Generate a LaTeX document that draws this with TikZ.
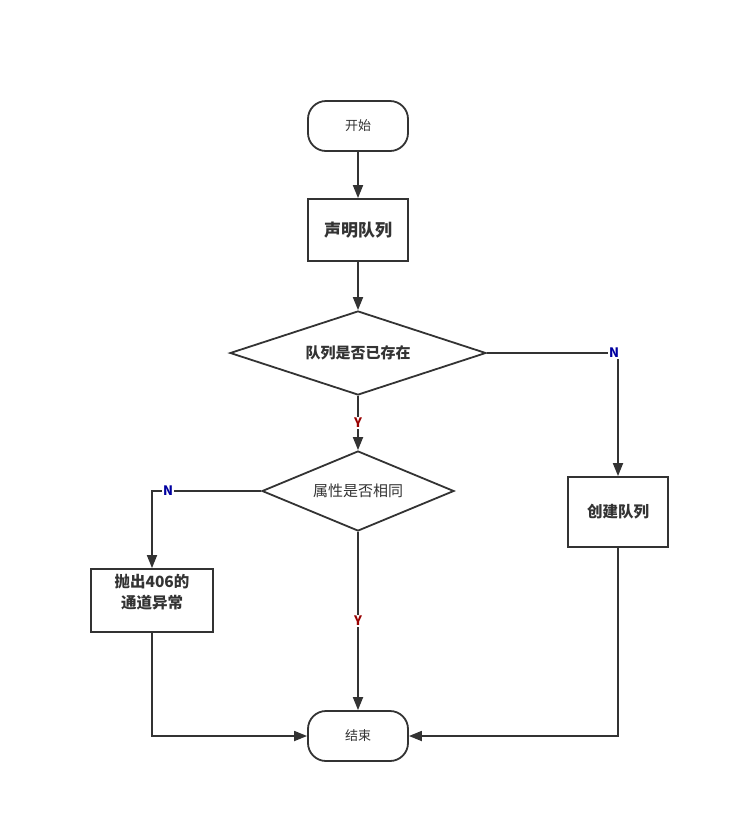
\documentclass[tikz,border=0pt]{standalone}
\usepackage{fontspec}
\setmainfont{Noto Sans CJK SC}
\usetikzlibrary{shapes.geometric,arrows.meta}
\definecolor{ln}{HTML}{333333}
\definecolor{nblue}{HTML}{0000A0}
\definecolor{yred}{HTML}{990000}
\begin{document}
\begin{tikzpicture}[x=1pt,y=-1pt,
  every node/.style={text=ln},
  term/.style={draw=ln,line width=1.8pt,rounded corners=18pt,minimum width=100pt,minimum height=50pt,inner sep=0pt,font=\fontsize{13}{15}\selectfont},
  proc/.style={draw=ln,line width=1.8pt,minimum width=100pt,inner sep=0pt,align=center,font=\fontsize{15.5}{20}\selectfont\bfseries},
  dec/.style={draw=ln,line width=1.8pt,diamond,aspect=3,inner sep=0pt},
  conn/.style={draw=ln,line width=1.8pt,-{Triangle[length=13pt,width=10pt]}},
  lbl/.style={fill=white,inner sep=1pt,font=\fontsize{13}{15}\selectfont\bfseries}
]
\useasboundingbox (0,0) rectangle (730,823);
\node[term] (start) at (358,126) {开始};
\node[proc,minimum height=62pt,font=\fontsize{17}{20}\selectfont\bfseries] (decl) at (358,230) {声明队列};
\node[dec,minimum width=256pt,minimum height=84pt,font=\fontsize{15}{18}\selectfont\bfseries] (d1) at (358,353) {队列是否已存在};
\node[dec,minimum width=192pt,minimum height=80pt,font=\fontsize{15}{18}\selectfont] (d2) at (358,491) {属性是否相同};
\node[proc,minimum height=70pt] (create) at (618,512) {创建队列};
\node[proc,minimum width=122pt,minimum height=63pt] (throw) at (152,600.5) {};
\node[align=center,inner sep=0pt,font=\fontsize{15.5}{21}\selectfont\bfseries] (throwtxt) at (152,592) {抛出406的\\通道异常};
\node[term] (end) at (358,736) {结束};
\coordinate (c1) at (618,353);
\coordinate (c2) at (152,491);
\coordinate (c3) at (152,736);
\coordinate (c4) at (618,736);
\draw[conn] (start) -- (decl);
\draw[conn] (decl) -- (d1);
\draw[conn] (d1.south) -- node[lbl,text=yred,pos=0.5] (y1) {Y} (d2.north);
\draw[conn] (d1.east) -- (c1) -- (create.north);
\node[lbl,text=nblue] (n1) at (614,353) {N};
\draw[conn] (d2.west) -- (c2) -- (throw.north);
\node[lbl,text=nblue] (n2) at (168,491) {N};
\draw[conn] (d2.south) -- node[lbl,text=yred,pos=0.5] (y2) {Y} (end.north);
\draw[conn] (throw.south) -- (c3) -- (end.west);
\draw[conn] (create.south) -- (c4) -- (end.east);
\end{tikzpicture}
\end{document}
